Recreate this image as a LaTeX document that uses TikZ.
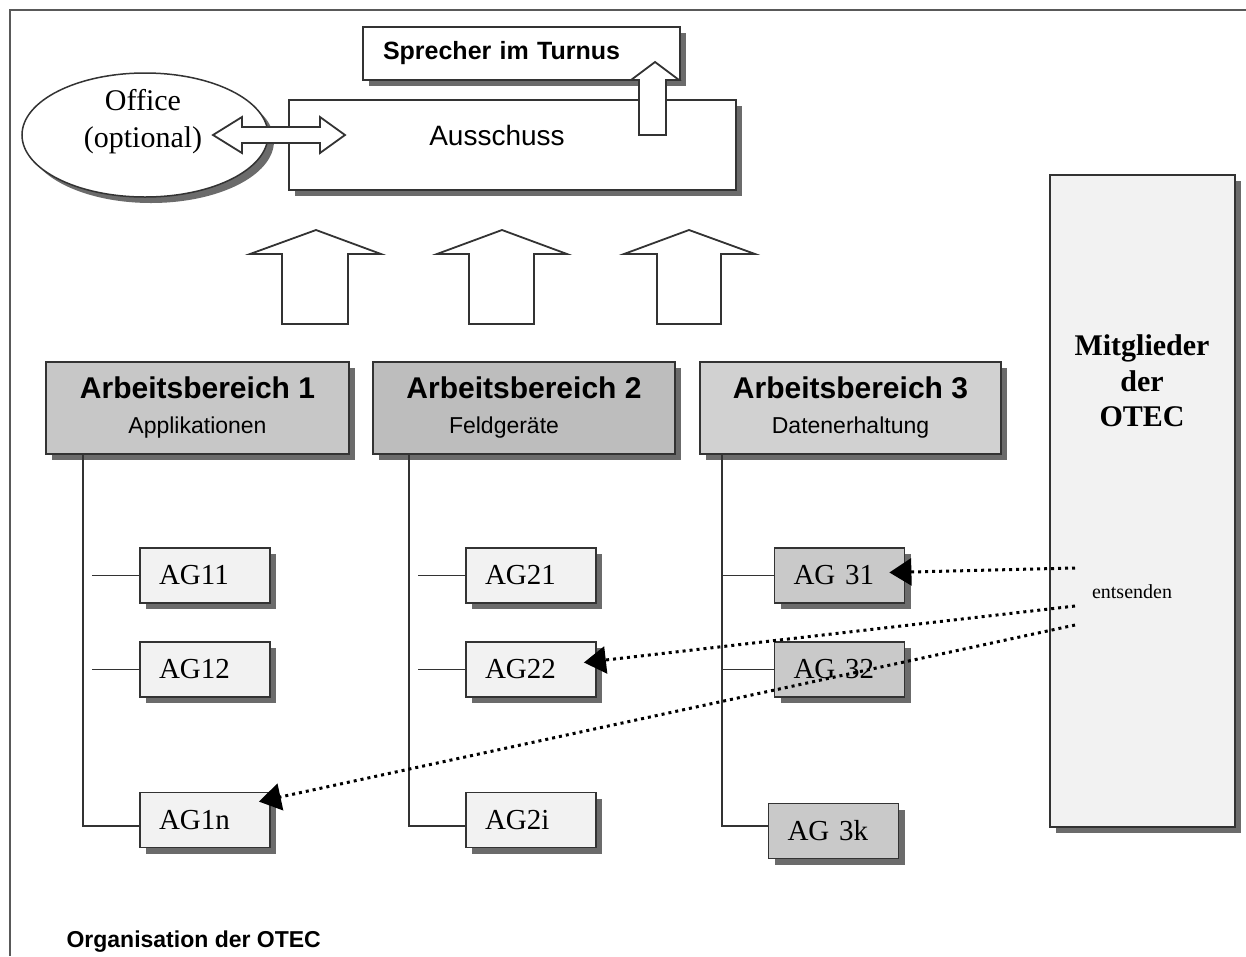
\documentclass[tikz,border=0pt]{standalone}
\usepackage{fontspec}
\setmainfont{Liberation Serif}
\setsansfont{Liberation Sans}
\usetikzlibrary{shapes.geometric,shadows,arrows.meta}
\definecolor{abone}{gray}{0.78}
\definecolor{abtwo}{gray}{0.74}
\definecolor{abthree}{gray}{0.82}
\definecolor{agdark}{gray}{0.79}
\definecolor{aglight}{gray}{0.95}
\definecolor{shadowgray}{gray}{0.42}
\definecolor{linegray}{gray}{0.2}
\newcommand{\abtitlefont}{\sffamily\bfseries\fontsize{30}{35}\selectfont}
\newcommand{\absubfont}{\sffamily\fontsize{23}{35}\selectfont}
\begin{document}
\begin{tikzpicture}[x=1pt,y=-1pt,
  shad/.style={drop shadow={shadow xshift=6pt,shadow yshift=-6pt,fill=shadowgray,opacity=1}},
  box/.style={rectangle,draw=linegray,line width=1.8pt,inner sep=0pt,shad},
  agbox/.style={box,minimum width=130,minimum height=55,text width=92,inner xsep=19pt,align=left,
     font=\rmfamily\fontsize{29}{34}\selectfont},
  abbox/.style={box,minimum width=302,minimum height=92,align=center,font=\sffamily\fontsize{23}{35}\selectfont},
  blockarrow/.style={draw=linegray,fill=white,line width=1.8pt,line join=miter},
  tree/.style={draw=linegray,line width=1.6pt},
  sends/.style={line width=3pt,dash pattern=on 3pt off 4pt,-{Triangle[length=22pt,width=27pt]}},
]
\useasboundingbox (0,0) rectangle (1246,956);
\fill[white] (0,0) rectangle (1246,956);
% partial frame
\draw[gray!70!black,line width=2pt] (1246,10) -- (10,10) -- (10,956);

% top area
\node[box,fill=white,minimum width=317,minimum height=53,text width=277,inner xsep=20pt,align=left,
  font=\sffamily\bfseries\fontsize{25}{30}\selectfont] (sprecher) at (521.5,53.5) {Sprecher im Turnus};
\node[box,fill=white,minimum width=447,minimum height=90] (ausschuss) at (512.5,145) {};
\node[font=\sffamily\fontsize{28}{33}\selectfont] (ausschusstext) at (497,135) {Ausschuss};
\node[ellipse,draw=linegray,line width=1.5pt,fill=white,minimum width=246,minimum height=124,shad] (office) at (145,135) {};
\node[align=center,font=\rmfamily\fontsize{30}{37}\selectfont] (officetext) at (143,122) {Office\\(optional)};

% small arrow ausschuss -> sprecher
\draw[blockarrow] (639,135) -- (639,80) -- (631,80) -- (655,62) -- (679,80) -- (666,80) -- (666,135) -- cycle;
% double arrow office <-> ausschuss
\draw[blockarrow] (213,135) -- (242,117) -- (242,127) -- (320,127) -- (320,117) -- (345,135)
  -- (320,153) -- (320,143) -- (242,143) -- (242,153) -- cycle;

% three block arrows
\draw[blockarrow] (316,230) -- (381,254) -- (348,254) -- (348,324) -- (282,324) -- (282,254) -- (250,254) -- cycle;
\draw[blockarrow] (502,230) -- (567,254) -- (534,254) -- (534,324) -- (469,324) -- (469,254) -- (437,254) -- cycle;
\draw[blockarrow] (689,230) -- (755,254) -- (721,254) -- (721,324) -- (657,324) -- (657,254) -- (624,254) -- cycle;

% Arbeitsbereiche
\node[abbox,fill=abone,minimum width=303] (ab1) at (197.5,408)
  {{\abtitlefont Arbeitsbereich 1}\\{\absubfont Applikationen}};
\node[abbox,fill=abtwo] (ab2) at (524,408)
  {{\abtitlefont Arbeitsbereich 2}\\{\absubfont Feldgeräte\hspace*{40pt}}};
\node[abbox,fill=abthree,minimum width=301] (ab3) at (850.5,408)
  {{\abtitlefont Arbeitsbereich 3}\\{\absubfont Datenerhaltung}};

% Mitglieder
\node[box,fill=aglight,minimum width=185,minimum height=652] (mitglieder) at (1142.5,501) {};
\node[align=center,font=\rmfamily\bfseries\fontsize{30}{35.5}\selectfont] (mitgliedertext) at (1142,381) {Mitglieder\\der\\OTEC};
\node[font=\rmfamily\fontsize{20}{24}\selectfont] (entsenden) at (1132,592) {entsenden};

% AG boxes
\node[agbox,fill=aglight] (ag11) at (205,575.5) {AG11};
\node[agbox,fill=aglight] (ag12) at (205,669.5) {AG12};
\node[agbox,fill=aglight] (ag1n) at (205,820) {AG1n};
\node[agbox,fill=aglight] (ag21) at (531,575.5) {AG21};
\node[agbox,fill=aglight] (ag22) at (531,669.5) {AG22};
\node[agbox,fill=aglight] (ag2i) at (531,820) {AG2i};
\node[agbox,fill=agdark] (ag31) at (839.5,575.5) {AG 31};
\node[agbox,fill=agdark] (ag32) at (839.5,669.5) {AG 32};
\node[agbox,fill=agdark] (ag3k) at (833.5,831) {AG 3k};

% tree lines
\draw[tree] (83,454) -- (83,826) -- ([yshift=-6pt]ag1n.west);
\draw[tree] (92,575.5) -- (ag11.west);
\draw[tree] (92,669.5) -- (ag12.west);
\draw[tree] (409,454) -- (409,826) -- ([yshift=-6pt]ag2i.west);
\draw[tree] (418,575.5) -- (ag21.west);
\draw[tree] (418,669.5) -- (ag22.west);
\draw[tree] (722,454) -- (722,826) -- ([yshift=5pt]ag3k.west);
\draw[tree] (722,575.5) -- (ag31.west);
\draw[tree] (722,669.5) -- (ag32.west);

% entsenden arrows
\coordinate (s1) at (1075,568);
\coordinate (s2) at (1075,606);
\coordinate (s3) at (1075,625);
\draw[sends] (s1) -- ([xshift=-16pt,yshift=3pt]ag31.east);
\draw[sends] (s2) -- ([xshift=-13pt,yshift=7pt]ag22.east);
\draw[sends] (s3) -- ([xshift=-12pt,yshift=-10pt]ag1n.north east);

% caption
\node[anchor=west,font=\sffamily\bfseries\fontsize{23}{27}\selectfont] (caption) at (63,942) {Organisation der OTEC};
\end{tikzpicture}
\end{document}
